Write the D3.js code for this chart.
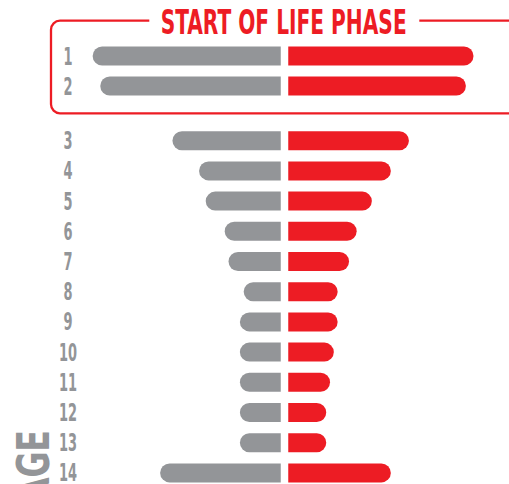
<!DOCTYPE html>
<html>
<head>
<meta charset="utf-8">
<script src="https://cdn.jsdelivr.net/npm/d3@7"></script>
<style>
  html, body { margin: 0; padding: 0; background: #fff; }
  svg { display: block; }
</style>
</head>
<body>
<div id="chart"></div>
<script>
// Age rows, split into the highlighted start phase and the rest
const phaseAges = [1, 2];
const otherAges = [3, 4, 5, 6, 7, 8, 9, 10, 11, 12, 13, 14];

// left (grey) and right (red) values per age, in order 1..14
const greyValues = [99, 95, 57, 43, 39.5, 29.5, 27.5, 19.5, 21.5, 21.5, 21.5, 21.5, 21.5, 63.5];
const redValues = [97.5, 93.5, 63.5, 54, 44, 36, 32, 26, 26, 24, 22, 20, 20, 54];

const title = "START OF LIFE PHASE";
const axisTitle = "AGE";

const width = 509;
const height = 484;
const red = "#ed1c24";
const grey = "#939598";
const center = 284.5;
const gap = 3.75;
const barH = 19;
const r = barH / 2;

const rows = phaseAges.concat(otherAges).map((age, i) => ({
    age: age,
    grey: greyValues[i],
    red: redValues[i]
}));

const x = d3.scaleLinear().domain([0, 100]).range([0, 190]);

const yPhase = d3.scalePoint().domain(phaseAges).range([56, 86]);
const yOther = d3.scalePoint().domain(otherAges).range([140.7, 472.9]);
const y = age => phaseAges.includes(age) ? yPhase(age) : yOther(age);

const svg = d3.select("#chart")
    .append("svg")
    .attr("width", width)
    .attr("height", height);

// box around the start of life phase
const bx = 51, by = 20.7, bb = 113.3, rad = 9;
const boxPath = d3.path();
boxPath.moveTo(149.3, by);
boxPath.lineTo(bx + rad, by);
boxPath.arcTo(bx, by, bx, by + rad, rad);
boxPath.lineTo(bx, bb - rad);
boxPath.arcTo(bx, bb, bx + rad, bb, rad);
boxPath.lineTo(width + 10, bb);
svg.append("path")
    .attr("d", boxPath.toString())
    .attr("fill", "none")
    .attr("stroke", red)
    .attr("stroke-width", 2.3);

svg.append("line")
    .attr("x1", 419.3).attr("x2", width + 10)
    .attr("y1", by).attr("y2", by)
    .attr("stroke", red)
    .attr("stroke-width", 2.3);

svg.append("text")
    .attr("x", 160.7)
    .attr("y", 33.7)
    .attr("textLength", 246)
    .attr("lengthAdjust", "spacingAndGlyphs")
    .style("font-family", "'DejaVu Sans Condensed', 'DejaVu Sans', sans-serif")
    .style("font-weight", "bold")
    .style("font-size", "34px")
    .style("fill", red)
    .text(title);

// bar with one rounded outer end
function barPath(inner, outer, cy, dir) {
    const top = cy - r, bottom = cy + r;
    const p = d3.path();
    p.moveTo(inner, top);
    p.lineTo(outer - dir * r, top);
    p.arc(outer - dir * r, cy, r, -Math.PI / 2, Math.PI / 2, dir < 0);
    p.lineTo(inner, bottom);
    p.closePath();
    return p.toString();
}

const g = svg.append("g");

g.selectAll("path.grey")
    .data(rows)
    .enter()
    .append("path")
    .attr("class", "grey")
    .attr("d", d => barPath(center - gap, center - gap - x(d.grey), y(d.age), -1))
    .style("fill", grey);

g.selectAll("path.red")
    .data(rows)
    .enter()
    .append("path")
    .attr("class", "red")
    .attr("d", d => barPath(center + gap, center + gap + x(d.red), y(d.age), 1))
    .style("fill", red);

// age labels
g.selectAll("text.age")
    .data(rows)
    .enter()
    .append("text")
    .attr("class", "age")
    .attr("transform", d => `translate(68,${y(d.age) + 8.5}) scale(0.6,1)`)
    .attr("text-anchor", "middle")
    .style("font-family", "'DejaVu Sans Condensed', 'DejaVu Sans', sans-serif")
    .style("font-weight", "bold")
    .style("font-size", "24px")
    .style("fill", grey)
    .text(d => d.age);

svg.append("text")
    .attr("transform", "translate(49,430) rotate(-90) scale(0.8,1)")
    .attr("text-anchor", "end")
    .style("font-family", "'DejaVu Sans Condensed', 'DejaVu Sans', sans-serif")
    .style("font-weight", "bold")
    .style("font-size", "44px")
    .style("fill", grey)
    .text(axisTitle);
</script>
</body>
</html>
